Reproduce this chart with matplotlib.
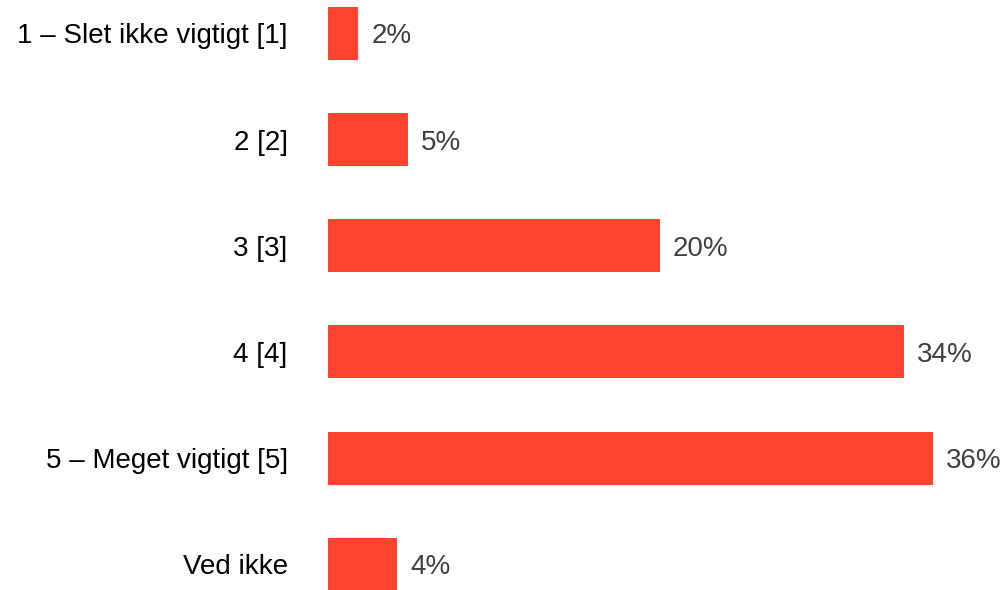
import matplotlib.pyplot as plt

plt.rcParams['font.family'] = ['Liberation Sans', 'DejaVu Sans']

# data
categories = ['1 – Slet ikke vigtigt [1]', '2 [2]', '3 [3]', '4 [4]',
              '5 – Meget vigtigt [5]', 'Ved ikke']
values = [1.8, 4.75, 19.7, 34.2, 35.9, 4.1]
labels = ['2%', '5%', '20%', '34%', '36%', '4%']

fig = plt.figure(figsize=(10.07, 5.9), dpi=100)
ax = fig.add_axes([328 / 1007, 0, 1 - 328 / 1007, 1])

pos = range(len(categories))
ax.barh(pos, values, height=0.5, color='#FF432F')

for i, (v, lab) in enumerate(zip(values, labels)):
    ax.text(v + 0.78, i, lab, va='center_baseline', ha='left', fontsize=20,
            color='#404040')

ax.set_yticks(list(pos))
ax.set_yticklabels(categories, fontsize=20, color='black')
ax.tick_params(axis='y', length=0, pad=29)
ax.set_xticks([])
ax.set_xlim(0, 40.3)
ax.set_ylim(5.242, -0.314)
for s in ax.spines.values():
    s.set_visible(False)

fig.savefig('out.png', dpi=100)
